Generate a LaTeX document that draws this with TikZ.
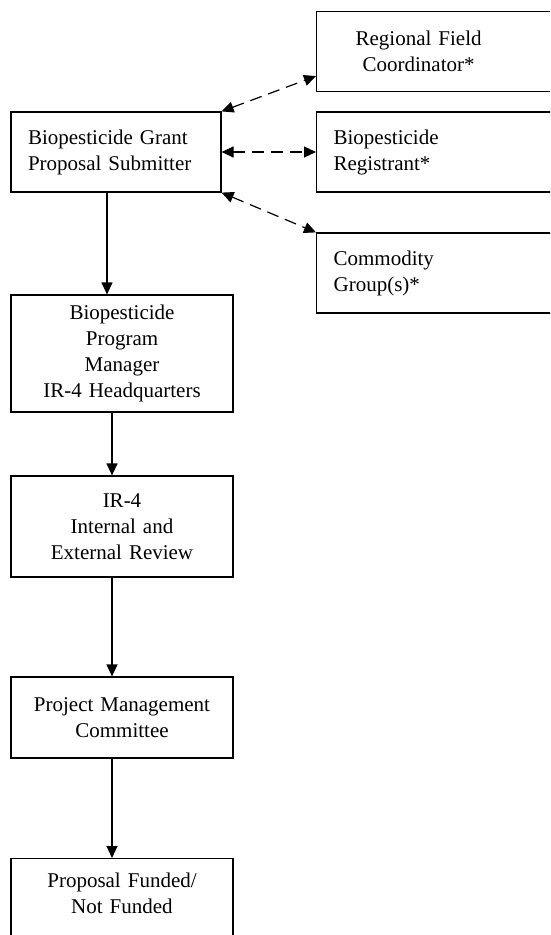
\documentclass[tikz,border=0pt]{standalone}
\usepackage{fontspec}
\setmainfont{Liberation Serif}
\usetikzlibrary{arrows.meta}

\begin{document}
\begin{tikzpicture}[x=1pt,y=-1pt]
    % Styles
    \tikzstyle{boite}=[draw,line width=1.2pt,font=\fontsize{21}{26}\selectfont,inner xsep=17pt,inner ysep=0pt]
    \tikzstyle{boitegauche}=[boite,text width=176pt,align=left,minimum height=80pt]
    \tikzstyle{boitedroite}=[boite,anchor=west,text width=250pt,align=left,minimum height=80pt]
    \tikzstyle{boitecentre}=[boite,inner xsep=11pt,text width=200pt,align=center]
    \tikzstyle{fleche}=[-{Triangle[length=12pt,width=11pt]},line width=1.2pt]
    \tikzstyle{pointille}=[{Triangle[length=12pt,width=11pt]}-{Triangle[length=12pt,width=11pt]},line width=1.2pt,dash pattern=on 12pt off 7pt]
    % Cadre
    \useasboundingbox (0,0) rectangle (550,935);
    \clip (0,0) rectangle (550,935);
    % Noeuds
    \node[boitegauche] (Soum) at (116,152) {Biopesticide Grant\\Proposal Submitter};
    \node[boitedroite] (Coord) at (316,51.5) {\makebox[170pt]{Regional Field}\\\makebox[170pt]{Coordinator*}};
    \node[boitedroite] (Enreg) at (316,152) {Biopesticide\\Registrant*};
    \node[boitedroite] (Comm) at (316,273) {Commodity\\Group(s)*};
    \node[boitecentre,minimum height=117pt] (Gest) at (122,353.5) {Biopesticide\\Program\\Manager\\IR-4 Headquarters};
    \node[boitecentre,minimum height=101pt] (Eval) at (122,526.5) {IR-4\\Internal and\\External Review};
    \node[boitecentre,minimum height=81pt] (Comite) at (122,717.5) {Project Management\\Committee};
    \node[boitecentre,anchor=north,inner ysep=14pt,text depth=80pt] (Fin) at (122,858) {Proposal Funded/\\Not Funded};
    % Arcs
    \draw[fleche] ([xshift=-9pt]Soum.south) -- ([xshift=-9pt]Soum.south |- Gest.north);
    \draw[fleche] ([xshift=-10pt]Gest.south) -- ([xshift=-10pt]Eval.north);
    \draw[fleche] ([xshift=-10pt]Eval.south) -- ([xshift=-10pt]Comite.north);
    \draw[fleche] ([xshift=-10pt]Comite.south) -- ([xshift=-10pt]Fin.north);
    \draw[pointille] (Soum.north east) -- ([yshift=16pt]Coord.south west);
    \draw[pointille] (Soum.east) -- (Enreg.west);
    \draw[pointille] (Soum.south east) -- (Comm.north west);
\end{tikzpicture}
\end{document}
